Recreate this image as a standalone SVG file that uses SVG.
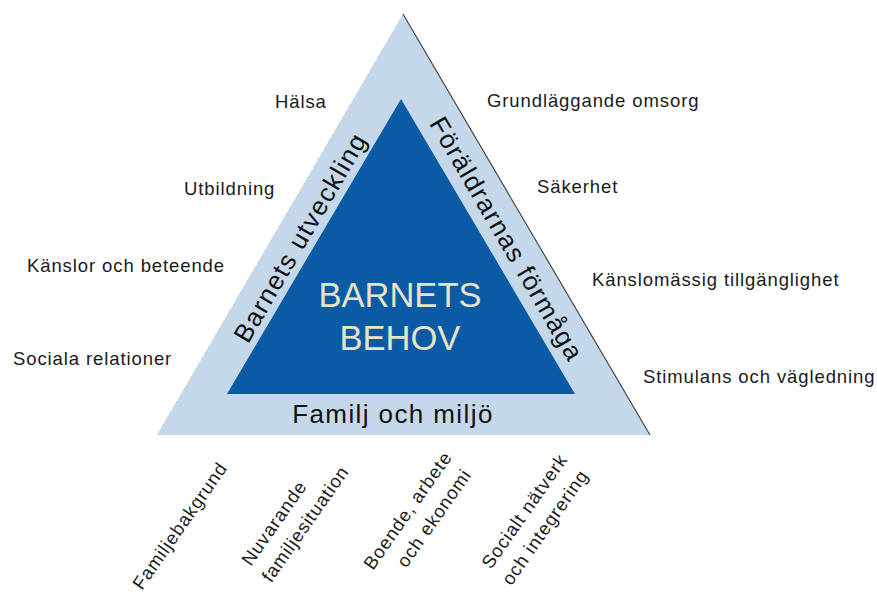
<svg xmlns="http://www.w3.org/2000/svg" width="877" height="594" viewBox="0 0 877 594">
<defs>
<style>
.lbl{font-family:"Liberation Sans",Arial,sans-serif;font-size:18.5px;letter-spacing:0.9px;fill:#1a1a1a}
.big{font-family:"Liberation Sans",Arial,sans-serif;font-size:26px;letter-spacing:1.4px;fill:#111;text-anchor:middle}
.core{font-family:"Liberation Sans",Arial,sans-serif;font-size:34.5px;fill:#e9e3c6;text-anchor:middle}
</style>
</defs>
<rect width="877" height="594" fill="#ffffff"/>
<g id="outer-triangle">
<polygon points="403,14 157,435 650,435" fill="#c5d8ea"/>
<line x1="403" y1="14" x2="650" y2="435" stroke="#3a3a3a" stroke-width="1.1"/>
<line x1="403" y1="14" x2="157" y2="435" stroke="#8a96a2" stroke-width="0.8" stroke-dasharray="1 6" opacity="0.6"/>
</g>
<g id="inner-triangle">
<polygon points="401,99 227,394 575,394" fill="#0a5aa5"/>
<text class="core" x="400" y="307">BARNETS</text>
<text class="core" x="400" y="350">BEHOV</text>
</g>
<g id="side-barnets-utveckling">
<text class="big" transform="translate(308,242) rotate(-59.7)">Barnets utveckling</text>
</g>
<g id="side-foraldrarnas-formaga">
<text class="big" transform="translate(499,243.5) rotate(59.7)">Föräldrarnas förmåga</text>
</g>
<g id="side-familj-och-miljo">
<text class="big" x="393" y="423">Familj och miljö</text>
</g>
<g id="left-labels">
<text class="lbl" x="275" y="108">Hälsa</text>
<text class="lbl" x="184" y="195">Utbildning</text>
<text class="lbl" x="27" y="272">Känslor och beteende</text>
<text class="lbl" x="13" y="365">Sociala relationer</text>
</g>
<g id="right-labels">
<text class="lbl" x="487" y="107">Grundläggande omsorg</text>
<text class="lbl" x="537" y="193">Säkerhet</text>
<text class="lbl" x="592" y="286">Känslomässig tillgänglighet</text>
<text class="lbl" x="643" y="383">Stimulans och vägledning</text>
</g>
<g id="bottom-labels">
<text class="lbl" transform="translate(142,591) rotate(-55)">Familjebakgrund</text>
<text class="lbl" transform="translate(251,567) rotate(-55)"><tspan x="0" y="0">Nuvarande</tspan><tspan x="-2" y="26">familjesituation</tspan></text>
<text class="lbl" transform="translate(373,571) rotate(-55)"><tspan x="0" y="0">Boende, arbete</tspan><tspan x="21" y="26">och ekonomi</tspan></text>
<text class="lbl" transform="translate(491,570) rotate(-55)"><tspan x="0" y="0">Socialt nätverk</tspan><tspan x="-2" y="26">och integrering</tspan></text>
</g>
<g id="connectors"></g>
</svg>
